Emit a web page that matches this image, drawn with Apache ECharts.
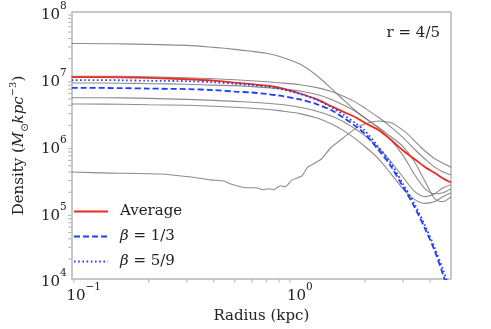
<!DOCTYPE html>
<html><head><meta charset="utf-8">
<script src="https://cdn.jsdelivr.net/npm/echarts@6/dist/echarts.min.js"></script>
<style>html,body{margin:0;padding:0;background:#fff}#c{width:491px;height:329px}</style>
</head><body><div id="c"></div>
<script>
// radius grid (kpc)
const radius = [0.088,0.1,0.15,0.2,0.3,0.4,0.5,0.6,0.7,0.8,1.0,1.2,1.4,1.6,1.8,2.0,2.3,2.6,3.0,3.4,3.8,4.2,4.6,5.0];
// density profiles (M_sun kpc^-3)
const average = [1.06e7,1.06e7,1.05e7,1.03e7,9.83e6,9.35e6,8.73e6,8.30e6,7.89e6,7.37e6,6.02e6,4.91e6,3.87e6,3.16e6,2.67e6,2.18e6,1.72e6,1.27e6,8.44e5,6.23e5,4.75e5,3.90e5,3.20e5,2.80e5];
const beta13 = [7.30e6,7.30e6,7.25e6,7.13e6,7.01e6,6.77e6,6.44e6,6.23e6,5.92e6,5.62e6,4.91e6,4.15e6,3.38e6,2.58e6,1.97e6,1.50e6,8.73e5,5.26e5,2.41e5,1.18e5,5.62e4,2.67e4,1.15e4,5.08e3];
const beta59 = [9.57e6,9.57e6,9.50e6,9.35e6,9.19e6,8.88e6,8.44e6,8.02e6,7.63e6,7.13e6,5.92e6,4.83e6,3.75e6,2.86e6,2.18e6,1.66e6,9.67e5,5.82e5,2.67e5,1.31e5,6.23e4,2.95e4,1.36e4,6.23e3];
const sim1 = [3.38e7,3.38e7,3.33e7,3.27e7,3.16e7,2.95e7,2.76e7,2.58e7,2.41e7,2.18e7,1.66e7,1.11e7,7.13e6,4.75e6,3.38e6,2.58e6,1.90e6,1.40e6,9.67e5,5.62e5,2.86e5,1.61e5,1.45e5,1.72e5];
const sim2 = [1.09e7,1.09e7,1.09e7,1.07e7,1.03e7,1.0e7,9.67e6,9.35e6,9.03e6,8.73e6,8.16e6,7.37e6,6.44e6,5.44e6,4.51e6,3.62e6,2.67e6,1.97e6,1.31e6,8.73e5,6.23e5,4.75e5,4.01e5,3.62e5];
const sim3 = [8.65e6,8.65e6,8.59e6,8.44e6,8.30e6,8.02e6,7.89e6,7.63e6,7.37e6,7.13e6,6.55e6,5.82e6,4.91e6,4.01e6,3.27e6,2.58e6,1.84e6,1.27e6,7.13e5,3.62e5,2.25e5,1.90e5,1.97e5,2.25e5];
const sim4 = [5.20e6,5.20e6,5.17e6,5.08e6,4.91e6,4.75e6,4.59e6,4.44e6,4.29e6,4.15e6,3.75e6,3.27e6,2.76e6,2.25e6,1.78e6,1.40e6,9.35e5,6.02e5,3.38e5,2.04e5,1.72e5,1.90e5,2.33e5,2.58e5];
const sim5 = [4.19e6,4.19e6,4.15e6,4.08e6,4.01e6,3.87e6,3.75e6,3.62e6,3.50e6,3.33e6,3.01e6,2.58e6,2.11e6,1.66e6,1.27e6,9.67e5,6.44e5,4.01e5,2.25e5,1.55e5,1.36e5,1.45e5,1.72e5,1.97e5];
// noisy low-density halo, own radius sampling
const sim6Radius = [0.088,0.1335,0.2238,0.3147,0.3867,0.4468,0.4754,0.5667,0.6284,0.6757,0.7187,0.7567,0.8134,0.8564,0.9206,1.021,1.086,1.255,1.392,1.591,1.820,2.060,2.332,2.667,3.113,3.635,4.244,5.0];
const sim6 = [4.01e5,3.87e5,3.75e5,3.38e5,3.06e5,2.95e5,2.67e5,2.33e5,2.33e5,2.18e5,2.25e5,2.18e5,2.50e5,2.41e5,3.06e5,3.50e5,4.75e5,6.23e5,9.35e5,1.31e6,1.84e6,2.18e6,2.33e6,2.18e6,1.55e6,9.35e5,6.23e5,4.75e5];
// axis ranges and minor ticks
const xMin = 0.088, xMax = 5.0, yMin = 1e4, yMax = 1e8;
const xMinorTicks = [0.09,0.2,0.3,0.4,0.5,0.6,0.7,0.8,0.9,2,3,4];
const yMinorTicks = [];
[1e4,1e5,1e6,1e7].forEach(d => { for (let m = 2; m <= 9; m++) yMinorTicks.push(m * d); });

const FONT = 'DejaVu Serif';
const TXT = '#222';
const pairs = (xs, ys) => xs.map((x, i) => [x, ys[i]]);
function powLabel(v) {
  const lg = Math.log10(v), e = Math.round(lg);
  if (Math.abs(lg - e) > 1e-6) return '';
  return '{b|10}{s|' + String(e).replace('-', '−') + '}';
}
const tickRich = {
  b: {fontFamily: FONT, fontSize: 15, color: TXT, verticalAlign: 'bottom', lineHeight: 22},
  s: {fontFamily: FONT, fontSize: 10.5, color: TXT, verticalAlign: 'top'}
};
const grayStyle = {color: 'rgba(120,120,120,0.85)', width: 1.1};
const graySeries = [sim1, sim2, sim3, sim4, sim5].map(arr => ({
  type: 'line', data: pairs(radius, arr), symbol: 'none', smooth: 0.3,
  lineStyle: grayStyle, z: 2, silent: true
}));
graySeries.push({type: 'line', data: pairs(sim6Radius, sim6), symbol: 'none', smooth: 0.15,
  lineStyle: grayStyle, z: 2, silent: true});

const chart = echarts.init(document.getElementById('c'));
chart.setOption({
  animation: false,
  backgroundColor: '#fff',
  grid: {left: 60, right: 40, top: 12, bottom: 45, show: true, borderColor: '#8f8f8f', borderWidth: 1},
  xAxis: {
    type: 'log', logBase: 10, min: xMin, max: xMax,
    name: 'Radius (kpc)', nameLocation: 'middle', nameGap: 19,
    nameTextStyle: {fontFamily: FONT, fontSize: 15, color: TXT},
    axisLine: {show: true, lineStyle: {color: '#c8c8c8', width: 2}},
    axisTick: {show: false},
    splitLine: {show: false},
    axisLabel: {formatter: powLabel, rich: tickRich, margin: 3, showMinLabel: false, showMaxLabel: false}
  },
  yAxis: {
    type: 'log', logBase: 10, min: yMin, max: yMax,
    name: '{n|Density (}{i|M}{o|⊙}{i|kpc}{p|−3}{n|)}', nameLocation: 'middle', nameGap: 39,
    nameTextStyle: {rich: {
      n: {fontFamily: FONT, fontSize: 15, color: TXT, lineHeight: 22, verticalAlign: 'middle'},
      i: {fontFamily: FONT, fontSize: 15, fontStyle: 'italic', color: TXT, lineHeight: 22, verticalAlign: 'middle'},
      o: {fontFamily: 'DejaVu Sans', fontSize: 10, color: TXT, verticalAlign: 'bottom'},
      p: {fontFamily: FONT, fontSize: 10, color: TXT, verticalAlign: 'top'}
    }},
    axisLine: {show: true, lineStyle: {color: '#c8c8c8', width: 2}},
    axisTick: {show: false},
    splitLine: {show: false},
    axisLabel: {formatter: powLabel, rich: tickRich, margin: 5}
  },
  legend: {
    data: ['Average', 'β = 1/3', 'β = 5/9'],
    orient: 'vertical', left: 68, top: 199,
    itemWidth: 34, itemHeight: 14, itemGap: 10,
    itemStyle: {opacity: 0, borderWidth: 0},
    formatter: function (n) {
      if (n === 'Average') return '{n|Average}';
      return '{i|β}{n|' + n.slice(1) + '}';
    },
    textStyle: {rich: {
      n: {fontFamily: FONT, fontSize: 15, color: TXT},
      i: {fontFamily: FONT, fontSize: 15, fontStyle: 'italic', color: TXT}
    }, padding: [0, 0, 0, 7]}
  },
  graphic: [{type: 'text', right: 51, top: 26, style: {text: 'r = 4/5', font: '15px "DejaVu Serif"', fill: TXT}}],
  series: graySeries.concat([
    {name: 'Average', type: 'line', data: pairs(radius, average), symbol: 'none', smooth: 0.3,
     lineStyle: {color: '#f0291c', width: 1.8}, itemStyle: {color: '#f0291c'}, z: 5},
    {name: 'β = 1/3', type: 'line', data: pairs(radius, beta13), symbol: 'none', smooth: 0.3,
     lineStyle: {color: '#1f3dff', width: 1.8, type: [6, 3]}, itemStyle: {color: '#1f3dff'}, z: 6},
    {name: 'β = 5/9', type: 'line', data: pairs(radius, beta59), symbol: 'none', smooth: 0.3,
     lineStyle: {color: '#1f3dff', width: 1.8, type: [1.6, 2.6]}, itemStyle: {color: '#1f3dff'}, z: 7},
    {type: 'scatter', data: xMinorTicks.map(x => [x, yMin]), symbol: 'rect', symbolSize: [1, 3],
     symbolOffset: [0, 2], clip: false, silent: true, itemStyle: {color: '#9a9a9a'}, z: 8},
    {type: 'scatter', data: yMinorTicks.map(y => [xMin, y]), symbol: 'rect', symbolSize: [3, 1],
     symbolOffset: [-2, 0], clip: false, silent: true, itemStyle: {color: '#9a9a9a'}, z: 8}
  ])
});
</script></body></html>
